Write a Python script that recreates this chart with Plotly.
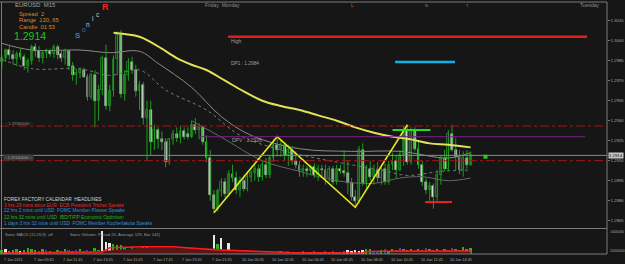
import plotly.graph_objects as go

# ---------------- data ----------------
bars = list(range(127))
opens = [1.2984,1.2987,1.2993,1.2989,1.2986,1.2991,1.2988,1.2981,1.2985,1.2995,
         1.2992,1.2987,1.2991,1.2992,1.2990,1.2995,1.2990,1.2987,1.2992,1.2981,
         1.2974,1.2976,1.2978,1.2973,1.2958,1.2974,1.2955,1.2963,1.2987,1.2951,
         1.2962,1.2986,1.3004,1.2960,1.2974,1.2984,1.2978,1.2962,1.2967,1.2942,
         1.2948,1.2924,1.2933,1.2926,1.2924,1.2909,1.2926,1.2930,1.2927,1.2932,
         1.2930,1.2928,1.2937,1.2933,1.2935,1.2924,1.2912,1.2884,1.2874,1.2887,
         1.2894,1.2885,1.2900,1.2897,1.2888,1.2895,1.2889,1.2898,1.2901,1.2904,
         1.2898,1.2907,1.2899,1.2912,1.2922,1.2918,1.2922,1.2914,1.2918,1.2910,
         1.2907,1.2902,1.2904,1.2902,1.2905,1.2899,1.2904,1.2903,1.2897,1.2904,
         1.2894,1.2904,1.2902,1.2901,1.2893,1.2883,1.2880,1.2918,1.2893,1.2904,
         1.2898,1.2903,1.2897,1.2904,1.2894,1.2907,1.2910,1.2903,1.2914,1.2933,
         1.2909,1.2932,1.2919,1.2907,1.2894,1.2888,1.2891,1.2883,1.2899,1.2912,
         1.2904,1.2930,1.2918,1.2913,1.2903,1.2912,1.2907]
highs = [1.2989,1.2994,1.2997,1.2993,1.2992,1.2994,1.2990,1.2987,1.2997,1.2998,
         1.2996,1.2993,1.2994,1.2994,1.2997,1.2997,1.2993,1.2994,1.2993,1.2984,
         1.2979,1.2980,1.2980,1.2975,1.2976,1.2978,1.2967,1.2989,1.2997,1.2967,
         1.2989,1.3007,1.3008,1.2978,1.2987,1.2988,1.2982,1.2970,1.2969,1.2955,
         1.2955,1.2937,1.2935,1.2932,1.2927,1.2927,1.2933,1.2935,1.2936,1.2935,
         1.2935,1.2940,1.2942,1.2938,1.2936,1.2929,1.2918,1.2888,1.2889,1.2897,
         1.2897,1.2903,1.2907,1.2902,1.2898,1.2899,1.2902,1.2903,1.2907,1.2907,
         1.2910,1.2912,1.2914,1.2926,1.2928,1.2926,1.2924,1.2922,1.2921,1.2917,
         1.2910,1.2907,1.2906,1.2907,1.2908,1.2907,1.2907,1.2907,1.2906,1.2906,
         1.2907,1.2907,1.2918,1.2910,1.2897,1.2888,1.2921,1.2923,1.2907,1.2910,
         1.2907,1.2909,1.2906,1.2908,1.2910,1.2916,1.2914,1.2918,1.2936,1.2937,
         1.2935,1.2935,1.2924,1.2910,1.2897,1.2894,1.2893,1.2903,1.2914,1.2918,
         1.2933,1.2937,1.2927,1.2918,1.2917,1.2918,1.2917]
lows = [1.2979,1.2984,1.2986,1.2982,1.2981,1.2986,1.2978,1.2976,1.2982,1.2988,
        1.2984,1.2983,1.2987,1.2988,1.2987,1.2986,1.2984,1.2982,1.2978,1.2970,
        1.2967,1.2972,1.2972,1.2955,1.2956,1.2935,1.2940,1.2959,1.2948,1.2947,
        1.2958,1.2974,1.2957,1.2955,1.2970,1.2975,1.2958,1.2948,1.2937,1.2910,
        1.2914,1.2918,1.2919,1.2918,1.2905,1.2907,1.2922,1.2924,1.2923,1.2926,
        1.2926,1.2927,1.2930,1.2926,1.2922,1.2909,1.2880,1.2871,1.2872,1.2883,
        1.2882,1.2883,1.2894,1.2885,1.2883,1.2887,1.2887,1.2894,1.2895,1.2894,
        1.2895,1.2897,1.2897,1.2909,1.2913,1.2913,1.2910,1.2906,1.2907,1.2904,
        1.2898,1.2898,1.2898,1.2899,1.2897,1.2895,1.2898,1.2892,1.2894,1.2892,
        1.2892,1.2900,1.2898,1.2885,1.2880,1.2875,1.2878,1.2891,1.2889,1.2895,
        1.2892,1.2894,1.2892,1.2892,1.2892,1.2903,1.2897,1.2902,1.2906,1.2907,
        1.2907,1.2917,1.2904,1.2891,1.2885,1.2880,1.2874,1.2880,1.2892,1.2902,
        1.2902,1.2917,1.2903,1.2900,1.2898,1.2904,1.2906]
closes = [1.2987,1.2993,1.2989,1.2986,1.2990,1.2988,1.2981,1.2985,1.2995,1.2992,
          1.2987,1.2991,1.2993,1.2990,1.2995,1.2989,1.2987,1.2992,1.2981,1.2974,
          1.2976,1.2978,1.2973,1.2958,1.2974,1.2955,1.2963,1.2987,1.2951,1.2962,
          1.2986,1.3004,1.2960,1.2974,1.2984,1.2978,1.2962,1.2967,1.2942,1.2948,
          1.2924,1.2933,1.2926,1.2924,1.2909,1.2926,1.2930,1.2927,1.2932,1.2928,
          1.2928,1.2937,1.2933,1.2935,1.2924,1.2912,1.2884,1.2874,1.2887,1.2894,
          1.2885,1.2900,1.2897,1.2888,1.2895,1.2889,1.2898,1.2901,1.2904,1.2898,
          1.2907,1.2899,1.2912,1.2922,1.2918,1.2922,1.2914,1.2918,1.2910,1.2907,
          1.2902,1.2904,1.2902,1.2905,1.2899,1.2904,1.2903,1.2897,1.2904,1.2894,
          1.2904,1.2902,1.2901,1.2893,1.2883,1.2880,1.2918,1.2893,1.2904,1.2898,
          1.2903,1.2897,1.2904,1.2894,1.2907,1.2910,1.2903,1.2914,1.2933,1.2909,
          1.2932,1.2919,1.2907,1.2894,1.2888,1.2891,1.2883,1.2899,1.2912,1.2904,
          1.2930,1.2918,1.2913,1.2903,1.2912,1.2907,1.2914]

# moving average (yellow) and envelope lines (gray)
ma_bars = [30,33,37,40,43,47,51,55,60,65,70,75,80,85,90,95,100,105,110,115,120,126]
ma_vals = [1.3006,1.3005,1.3003,1.2999,1.2994,1.2987,1.2982,1.2978,1.2970,1.2962,1.2955,
           1.2951,1.2948,1.2944,1.2940,1.2935,1.2931,1.2928,1.2926,1.2923,1.2922,1.2920]
band1_bars = [0,8,21,29,37,42,51,59,67,80,94,107,120,126]
band1_vals = [1.2998,1.2993,1.2993,1.2991,1.2992,1.2983,1.2965,1.2943,1.2929,1.2919,1.2917,1.2917,1.2912,1.2916]
band2_bars = [0,8,21,29,37,44,55,64,75,88,102,109,118,126]
band2_vals = [1.2986,1.2979,1.2979,1.2974,1.2978,1.2963,1.2948,1.2929,1.2918,1.2910,1.2903,1.2899,1.2902,1.2903]
band3_bars = [51,60,70,80,90,100,107,113,120,126]
band3_vals = [1.2940,1.2926,1.2910,1.2902,1.2895,1.2893,1.2897,1.2898,1.2895,1.2897]

# zigzag
zz_bars = [57,74,95,109]
zz_vals = [1.2871,1.2928,1.2875,1.2937]

# horizontal levels
high_level = 1.3003; high_span = [60.8,157.3]
dp1_level = 1.2984; dp1_span = [105.7,121.8]
dpv_level = 1.2928; dpv_span = [53.3,156.8]
swing_high = 1.2933; swing_high_span = [105.0,115.2]
swing_low = 1.2879; swing_low_span = [113.8,121.0]
dash_levels = [1.2936, 1.2910]
bid = 1.2914
signal_bar = 130

price_ticks = [1.3030,1.3015,1.3000,1.2985,1.2970,1.2955,1.2940,1.2925,1.2910,1.2895,1.2880,1.2865]
time_label_bars = [0,8,16,24,32,40,48,56,64,72,80,88,96,104,112,120]
time_labels = ["7 Jan 2011","7 Jan 09:45","7 Jan 11:45","7 Jan 13:45","7 Jan 15:45","7 Jan 17:45",
               "7 Jan 19:45","7 Jan 21:45","10 Jan 00:45","10 Jan 02:45","10 Jan 04:45","10 Jan 06:45",
               "10 Jan 08:45","10 Jan 10:45","10 Jan 12:45","10 Jan 14:45"]

# volume subwindow
volumes = [100,125,75,100,125,75,100,150,125,
           100,75,125,100,75,50,100,75,125,100,75,100,125,75,100,75,150,100,
           550,300,275,250,225,
           225,150,125,175,125,150,200,200,
           75,50,75,100,50,75,50,75,50,100,75,50,75,50,75,50,75,
           450,250,375,100,275,
           75,50,75,50,100,50,75,50,75,50,75,50,50,75,50,75,50,50,50,75,50,50,75,50,50,75,50,75,50,50,75,
           100,75,100,75,100,
           125,125,75,50,
           100,125,75,125,100,150,125,100,125,75,125,100,150,125,100,125,75,125,100,150,125,100,175,125,150]
vol_codes = ("gwgggwggg" + "gbgbgbgggbgbggbggg" + "wwwgg" + "gggggggg" + "bbbbbbbbbbbbbbbbb" +
             "wgwbw" + "bbbbgbbbbbbbbgbbbbbbbbbbbbbbbbb" + "wwwww" + "ggbb" + "gbgggbgggbggbgggbggbggggg")
avg_bars = [0,27,29,38,46,57,77,86,97,98,108,126]
avg_vals = [25,50,150,175,175,100,38,25,25,62,75,75]
hist_bars_a = [12,13,27,38,55,60,78,80]
hist_vals_a = [0,50,75,150,150,100,40,0]
hist_bars_b = [104,105,126]
hist_vals_b = [0,75,75]

news_lines = ["FOREX FACTORY CALENDAR  HEADLINES",
              "3 hrs 29 mins since EUR  ECB President Trichet Speaks",
              "22 hrs 2 mins until USD  FOMC Member Plosser Speaks",
              "22 hrs 32 mins until USD  IBD/TIPP Economic Optimism",
              "1 days 3 hrs 32 mins until USD  FOMC Member Kocherlakota Speaks"]
news_colors = ["#d4d4d4", "#e02a2a", "#2f8fd8", "#22b422", "#2f8fd8"]

# ---------------- layout helpers ----------------
BG = "#161616"
FONT = "Liberation Sans"
TOP, BOT, RIGHT = 2, 254, 607
H = BOT - TOP

def px(x):
    return x / RIGHT

def py(y):
    return (BOT - y) / H

main_dom = [py(228), 1]
sub_dom = [0, py(229)]
y_top = 1.3030 + (0.7 - TOP) * 0.000075
y_bot = 1.3030 - (228 - 0.7) * 0.000075
x_left = -1.9 / 3.72
x_right = (RIGHT - 1.9) / 3.72

fig = go.Figure()

# envelope lines
fig.add_trace(go.Scatter(x=band1_bars, y=band1_vals, mode="lines", line=dict(color="#8a8a8a", width=1, shape="spline"), hoverinfo="skip"))
fig.add_trace(go.Scatter(x=band2_bars, y=band2_vals, mode="lines", line=dict(color="#7a7a7a", width=1, shape="spline", dash="dot"), hoverinfo="skip"))
fig.add_trace(go.Scatter(x=band3_bars, y=band3_vals, mode="lines", line=dict(color="#666666", width=1, shape="spline"), hoverinfo="skip"))

# candle wicks (green)
wx, wy = [], []
for i in bars:
    wx += [i, i, None]
    wy += [lows[i], highs[i], None]
fig.add_trace(go.Scatter(x=wx, y=wy, mode="lines", line=dict(color="#1f9a1f", width=1), hoverinfo="skip"))

# candle bodies: bullish hollow (dark), bearish white
bull = [i for i in bars if closes[i] >= opens[i]]
bear = [i for i in bars if closes[i] < opens[i]]
fig.add_trace(go.Bar(x=bull, base=[opens[i] for i in bull], y=[closes[i] - opens[i] for i in bull],
                     width=0.5, marker=dict(color="#111111", line=dict(color="#1f9a1f", width=0.8)),
                     hoverinfo="skip"))
fig.add_trace(go.Bar(x=bear, base=[closes[i] for i in bear], y=[opens[i] - closes[i] for i in bear],
                     width=0.5, marker=dict(color="#e2eae2", line=dict(color="#cfdccf", width=0.5)),
                     hoverinfo="skip"))

# MA
fig.add_trace(go.Scatter(x=ma_bars, y=ma_vals, mode="lines", line=dict(color="#e2e25a", width=2, shape="spline"), hoverinfo="skip"))
# zigzag
fig.add_trace(go.Scatter(x=zz_bars, y=zz_vals, mode="lines", line=dict(color="#e6e61e", width=1.6), hoverinfo="skip"))

# levels
def seg(span, level, color, width, dash="solid"):
    fig.add_trace(go.Scatter(x=span, y=[level, level], mode="lines",
                             line=dict(color=color, width=width, dash=dash), hoverinfo="skip"))

seg(dpv_span, dpv_level, "#7d1f86", 1)
seg(high_span, high_level, "#e01e1e", 2.5)
seg(dp1_span, dp1_level, "#12aee8", 2.5)
seg(swing_high_span, swing_high, "#22dd22", 2)
seg(swing_low_span, swing_low, "#ee2020", 2)
fig.add_trace(go.Scatter(x=[signal_bar], y=[bid - 0.0001], mode="markers",
                         marker=dict(color="#22cc22", size=4, symbol="square"), hoverinfo="skip"))

# volume subwindow
fig.add_trace(go.Scatter(x=hist_bars_a, y=hist_vals_a, mode="lines", fill="tozeroy", fillcolor="#5a1616",
                         line=dict(width=0, color="#5a1616"), yaxis="y2", hoverinfo="skip"))
fig.add_trace(go.Scatter(x=hist_bars_b, y=hist_vals_b, mode="lines", fill="tozeroy", fillcolor="#5a1616",
                         line=dict(width=0, color="#5a1616"), yaxis="y2", hoverinfo="skip"))
cmap = {"g": "#22b422", "w": "#e8e8e8", "b": "#4646a6"}
fig.add_trace(go.Bar(x=bars, y=volumes, marker=dict(color=[cmap[c] for c in vol_codes], line=dict(width=0)),
                     width=0.5, yaxis="y2", hoverinfo="skip"))
fig.add_trace(go.Scatter(x=avg_bars, y=avg_vals, mode="lines", line=dict(color="#ff1c1c", width=1.5),
                         yaxis="y2", hoverinfo="skip"))

# ---------------- shapes ----------------
shapes = []
gray = "#7a7a7a"
for lvl in dash_levels:
    shapes.append(dict(type="line", xref="paper", yref="y", x0=0, x1=1, y0=lvl, y1=lvl,
                       line=dict(color="#a01818", width=1, dash="dashdot")))
shapes.append(dict(type="line", xref="paper", yref="y", x0=0, x1=1, y0=bid, y1=bid,
                   line=dict(color="#8a8a8a", width=1)))
for (x0, y0, x1, y1) in [(0, 1, 1, 1), (px(1.5), 0, px(1.5), 1), (1, 0, 1, 1),
                         (0, py(228.5), 1, py(228.5)), (0, 0, 1, 0)]:
    shapes.append(dict(type="line", xref="paper", yref="paper", x0=x0, y0=y0, x1=x1, y1=y1,
                       line=dict(color=gray, width=1)))

# ---------------- annotations ----------------
ann = []

def txt(t, x, y, size, color, anchor="left", bold=False, bg=None):
    d = dict(text=("<b>%s</b>" % t) if bold else t, x=px(x), y=py(y), xref="paper", yref="paper",
             xanchor=anchor, yanchor="middle", showarrow=False,
             font=dict(family=FONT, size=size, color=color))
    if bg:
        d["bgcolor"] = bg
        d["borderpad"] = 0
    ann.append(d)

txt("EURUSD  M15", 12.5, 5.5, 6, "#a0a0a0")
txt("Spread  2", 17, 14, 5.8, "#d8882a")
txt("Range  130, 65", 17, 20.5, 5.8, "#d8882a")
txt("Candle  01:53", 17, 26.7, 5.8, "#d8882a")
txt("1.2914", 12, 36, 10.5, "#22c022")
txt("S", 72.5, 36, 8, "#2f7fc0", bold=True)
txt("o", 79.5, 29.5, 6.5, "#5a6a80")
txt("n", 83.5, 24, 6.5, "#b8c8e0")
txt("i", 89.5, 19, 6.5, "#d0d0d0")
txt("c", 94, 14, 6.5, "#c8c8c8")
txt("R", 99.5, 6.5, 9, "#ff2020", bold=True)

txt("Friday  Monday", 203, 5.2, 5, "#909090")
txt("Tuesday", 578, 5.2, 5, "#909090")
txt("L", 349, 5.2, 4.5, "#c87020")
txt("N", 423, 5.2, 4, "#a09020")
txt("T", 464, 5.2, 4, "#808080")

txt("High", 228.5, 41, 5, "#a0a0a0")
txt("DP1 : 1.2984", 229, 63.5, 4.8, "#a0a0a0")
txt("DPV : 1.2926", 230, 140, 5, "#a0a0a0")
txt("~ 1.29360000 ~", 3, 124, 4, "#909090")
txt("~ 1.29140000 ~", 3, 157.5, 4, "#a0a0a0", bg="#3a3a3a")

for i, (line, col) in enumerate(zip(news_lines, news_colors)):
    txt(line, 2, 199 + i * 6, 4.8, col)

txt("Sonic MACD (12,26,9)  off", 3, 234, 4.1, "#9a9a9a")
txt("Sonic Volume: Period 20, Average 129, Bar 142)", 68, 234, 4.2, "#9a9a9a")

# subwindow scale labels
txt("-0000000", 608, 232.3, 3.3, "#a8a8a8")
txt("10000000", 608, 250.8, 3.3, "#a8a8a8")

# current price label
ann.append(dict(text="1.2914", x=1, y=bid, xref="paper", yref="y", xanchor="left", yanchor="middle",
                xshift=1, showarrow=False, bgcolor="#c8c8c8", borderpad=0,
                font=dict(family=FONT, size=4.3, color="#000000")))

# time labels
for b, lab in zip(time_label_bars, time_labels):
    ann.append(dict(text=lab, x=b, y=py(259.5), xref="x", yref="paper", xanchor="left",
                    yanchor="middle", showarrow=False, font=dict(family=FONT, size=3.8, color="#a8a8a8")))

fig.update_layout(
    width=625, height=264, margin=dict(l=0, r=18, t=TOP, b=264 - BOT),
    paper_bgcolor=BG, plot_bgcolor=BG, showlegend=False,
    shapes=shapes, annotations=ann, barmode="overlay", bargap=0,
    xaxis=dict(range=[x_left, x_right], anchor="y2", showgrid=False, zeroline=False,
               showticklabels=False, ticks="", fixedrange=True),
    yaxis=dict(domain=main_dom, range=[y_bot, y_top], side="right", showgrid=False, zeroline=False,
               tickvals=price_ticks, ticktext=["%.4f" % v for v in price_ticks],
               tickfont=dict(family=FONT, size=4.2, color="#a8a8a8"),
               ticks="outside", ticklen=2, tickcolor="#7a7a7a", anchor="x"),
    yaxis2=dict(domain=sub_dom, range=[0, 600], side="right", showgrid=False, zeroline=False,
                showticklabels=False, anchor="x"),
)

fig.write_html("out.html")
